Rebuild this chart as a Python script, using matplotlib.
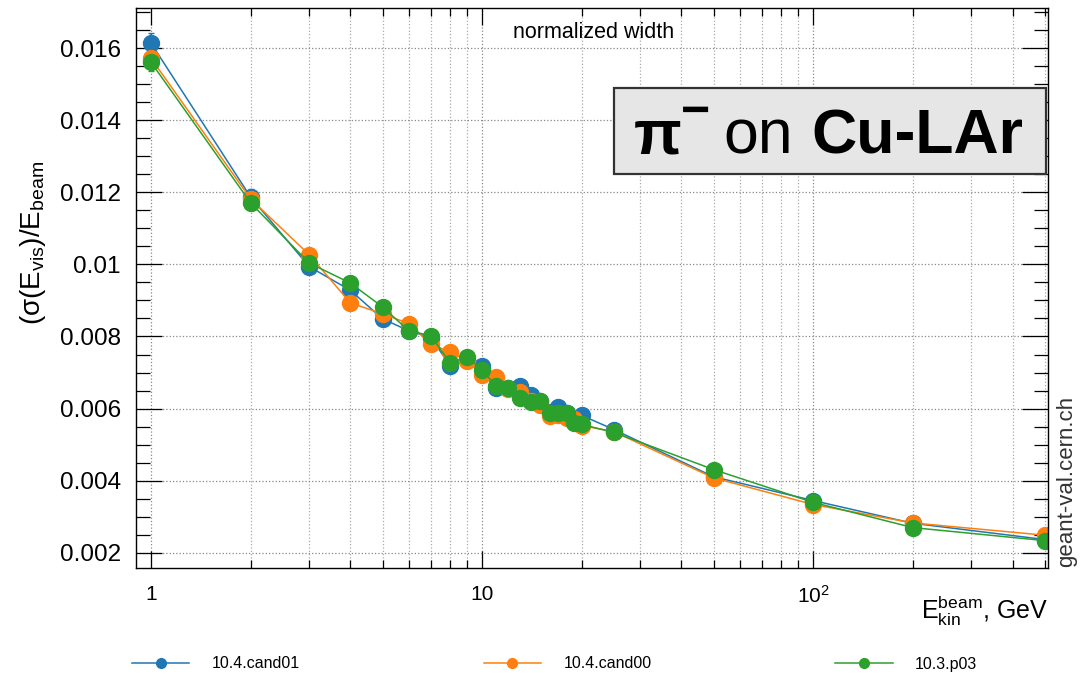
import matplotlib.pyplot as plt
import numpy as np
from matplotlib.lines import Line2D
from matplotlib.patches import Rectangle
from matplotlib.ticker import FixedLocator, FixedFormatter, NullFormatter

plt.rcParams['font.family'] = ['Liberation Sans', 'DejaVu Sans']
plt.rcParams['mathtext.default'] = 'regular'

# beam kinetic energies, GeV
energy = [1, 2, 3, 4, 5, 6, 7, 8, 9, 10, 11, 12, 13, 14, 15, 16, 17, 18, 19, 20,
          25, 50, 100, 200, 500]

# normalized width sigma(E_vis)/E_beam per release
cand01 = [0.01613, 0.01186, 0.00994, 0.00928, 0.00849, 0.00816, 0.00797, 0.00719,
          0.00736, 0.00717, 0.00657, 0.00657, 0.00662, 0.00639, 0.00620, 0.00590,
          0.00605, 0.00588, 0.00565, 0.00581, 0.00542, 0.00411, 0.00345, 0.00282,
          0.00237]
cand00 = [0.01571, 0.01181, 0.01027, 0.00893, 0.00863, 0.00836, 0.00779, 0.00757,
          0.00733, 0.00694, 0.00688, 0.00655, 0.00646, 0.00622, 0.00611, 0.00579,
          0.00581, 0.00573, 0.00570, 0.00553, 0.00536, 0.00408, 0.00334, 0.00283,
          0.00249]
p03 = [0.01560, 0.01170, 0.01004, 0.00948, 0.00882, 0.00816, 0.00802, 0.00727,
       0.00743, 0.00708, 0.00662, 0.00656, 0.00630, 0.00619, 0.00622, 0.00588,
       0.00588, 0.00588, 0.00560, 0.00556, 0.00534, 0.00431, 0.00340, 0.00270,
       0.00234]

# statistical errors
err_cand01 = [0.00030, 0.00022, 0.00012, 0.00011, 0.00010, 0.00010, 0.00009, 0.00009,
              0.00009, 0.00008, 0.00008, 0.00008, 0.00008, 0.00007, 0.00007, 0.00007,
              0.00007, 0.00007, 0.00007, 0.00007, 0.00006, 0.00005, 0.00004, 0.00004,
              0.00003]
err_cand00 = [0.00025, 0.00018, 0.00012, 0.00011, 0.00010, 0.00010, 0.00009, 0.00009,
              0.00009, 0.00008, 0.00008, 0.00008, 0.00008, 0.00007, 0.00007, 0.00007,
              0.00007, 0.00007, 0.00007, 0.00007, 0.00006, 0.00005, 0.00004, 0.00004,
              0.00003]
err_p03 = [0.00024, 0.00018, 0.00012, 0.00011, 0.00010, 0.00010, 0.00009, 0.00009,
           0.00009, 0.00008, 0.00008, 0.00008, 0.00008, 0.00007, 0.00007, 0.00007,
           0.00007, 0.00007, 0.00007, 0.00007, 0.00006, 0.00005, 0.00004, 0.00004,
           0.00003]

series = [
    ('10.4.cand01', cand01, err_cand01, '#1f77b4'),
    ('10.4.cand00', cand00, err_cand00, '#ff7f0e'),
    ('10.3.p03', p03, err_p03, '#2ca02c'),
]

y_ticks = [0.002, 0.004, 0.006, 0.008, 0.010, 0.012, 0.014, 0.016]
y_tick_labels = ['0.002', '0.004', '0.006', '0.008', '0.01', '0.012', '0.014', '0.016']
x_ticks = [1, 10, 100]
x_tick_labels = ['1', '10', '10$^{2}$']

W, H = 1081, 675
fig = plt.figure(figsize=(W / 100, H / 100), dpi=100)
ax = fig.add_axes([136 / W, 1 - 568 / H, (1048 - 136) / W, (568 - 8) / H])

for label, vals, errs, col in series:
    ax.errorbar(energy, vals, yerr=errs, color=col, marker='o', markersize=11.5,
                lw=1.1, elinewidth=1.1, capsize=2, label=label)

ax.set_xscale('log')
ax.set_xlim(0.90, 512)
ax.set_ylim(0.00158, 0.01711)

ax.xaxis.set_major_locator(FixedLocator(x_ticks))
ax.xaxis.set_major_formatter(FixedFormatter(x_tick_labels))
minor_x = [m * d for d in (1, 10, 100) for m in range(2, 10) if m * d < 512]
ax.xaxis.set_minor_locator(FixedLocator(minor_x))
ax.xaxis.set_minor_formatter(NullFormatter())
ax.yaxis.set_major_locator(FixedLocator(y_ticks))
ax.yaxis.set_major_formatter(FixedFormatter(y_tick_labels))
ax.yaxis.set_minor_locator(FixedLocator(np.arange(0.0020, 0.0171, 0.0005)))

ax.tick_params(axis='both', which='both', direction='in', top=True, right=True,
               colors='black', width=0.9)
ax.tick_params(axis='x', which='major', length=12, pad=12, labelsize=15)
ax.tick_params(axis='x', which='minor', length=6)
ax.tick_params(axis='y', which='major', length=19, pad=11, labelsize=17.5)
ax.tick_params(axis='y', which='minor', length=10)
for s in ax.spines.values():
    s.set_linewidth(1.0)

ax.grid(True, which='major', axis='both', ls=':', color='#888888', lw=0.9)
ax.grid(True, which='minor', axis='x', ls=':', color='#aaaaaa', lw=0.9)
ax.set_axisbelow(True)

fig.text(594 / W, 1 - 32 / H, 'normalized width', ha='center', va='center',
         fontsize=15.5)

fig.text(33 / W, 1 - 243 / H, '(σ(E$_{vis}$)/E$_{beam}$', rotation=90,
         ha='center', va='center', fontsize=20)
fig.text(1048 / W, 1 - 619 / H, 'E$_{kin}^{beam}$, GeV', ha='right', va='baseline',
         fontsize=18)
fig.text(1067 / W, 1 - 567 / H, 'geant-val.cern.ch', rotation=90, ha='center',
         va='bottom', fontsize=16, color='#333333')

# title box
fig.patches.append(Rectangle((614 / W, 1 - 174 / H), (1046 - 614) / W, (174 - 88) / H,
                             transform=fig.transFigure, facecolor='#e6e6e6',
                             edgecolor='#333333', lw=1.6, zorder=5))
fig.text(634 / W, 1 - 153 / H, 'π', fontsize=45, fontweight='bold', va='baseline',
         ha='left', zorder=6)
fig.text(681 / W, 1 - 126 / H, '−', fontsize=36, fontweight='bold', va='baseline',
         ha='left', zorder=6)
fig.text(723 / W, 1 - 153 / H, 'on', fontsize=45, va='baseline', ha='left', zorder=6)
fig.text(811 / W, 1 - 153 / H, 'Cu-LAr', fontsize=45, fontweight='bold', va='baseline',
         ha='left', zorder=6)

handles = [Line2D([], [], color=col, marker='o', markersize=7, lw=1.1)
           for _, _, _, col in series]
fig.legend(handles, [s[0] for s in series], loc='center left',
           bbox_to_anchor=(124 / W, 1 - 664 / H), ncol=3, frameon=False, fontsize=11.5,
           handlelength=3.6, handletextpad=1.4, columnspacing=11.5, borderpad=0)

fig.savefig('out.png', dpi=100)
